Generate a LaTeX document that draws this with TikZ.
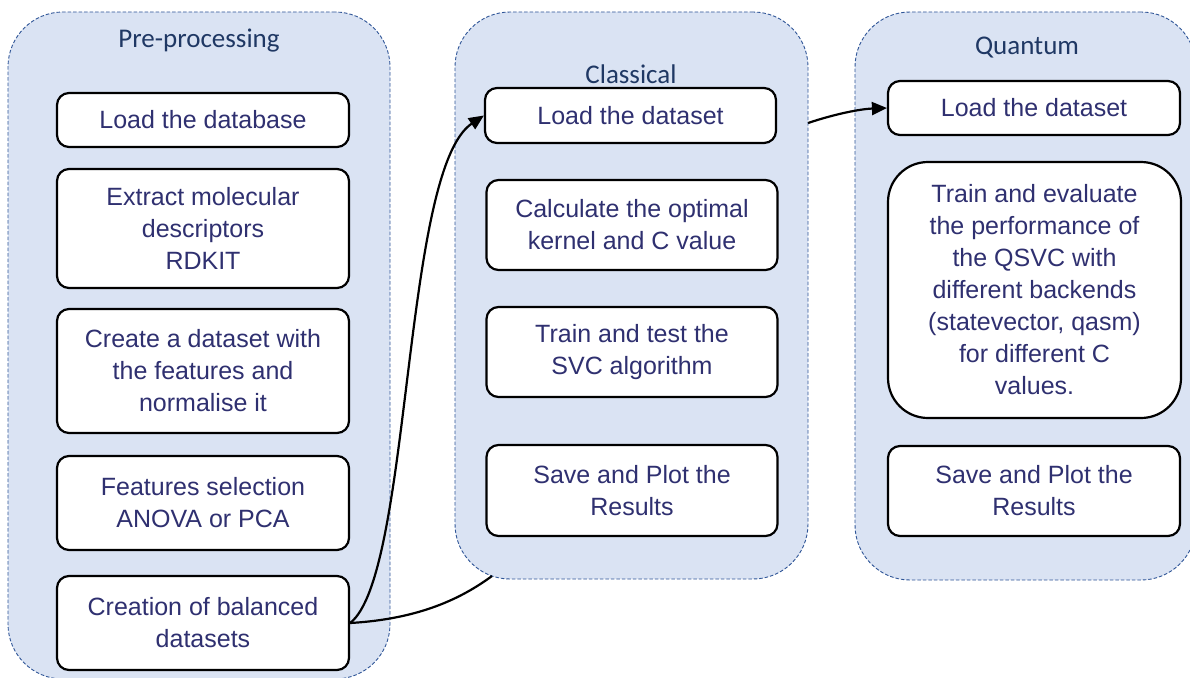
\documentclass[tikz,border=0pt]{standalone}
\usepackage{fontspec}
\setmainfont{Liberation Sans}
\newfontfamily\titlefont{Carlito}
\usetikzlibrary{arrows.meta}
\definecolor{panelfill}{HTML}{DAE3F3}
\definecolor{paneldraw}{HTML}{2F5597}
\definecolor{titlecol}{HTML}{1F3864}
\definecolor{boxtext}{HTML}{2F3070}
\tikzset{
  panel/.style={draw=paneldraw, fill=panelfill, line width=0.9pt, dash pattern=on 3.5pt off 2pt, rounded corners=55pt},
  ptitle/.style={font=\titlefont\fontsize{27}{30}\selectfont, text=titlecol, anchor=base},
  box/.style={draw=black, fill=white, line width=2.2pt, rounded corners=12pt, align=center,
    text=boxtext, font=\fontsize{25}{32}\selectfont, inner sep=0pt},
  conn/.style={draw=black, line width=2.2pt},
  tip/.style={-{Triangle[length=15pt,width=13pt]}}
}
\begin{document}
\begin{tikzpicture}[x=1pt,y=-1pt]
\clip (0,0) rectangle (1190,677);
\fill[white] (0,0) rectangle (1190,677);
% panels
\node[panel, minimum width=382pt, minimum height=667pt] (pre) at (199,345.5) {};
\node[panel, minimum width=353pt, minimum height=567pt] (cla) at (631.5,295.5) {};
\node[panel, minimum width=341pt, minimum height=568pt] (qua) at (1025.5,296) {};
% titles
\node[ptitle] (tpre) at (199,48) {Pre-processing};
\node[ptitle] (tcla) at (631,83) {Classical};
\node[ptitle] (tqua) at (1027,55) {Quantum};
% pre-processing boxes
\node[box, minimum width=292pt, minimum height=54pt] (b1) at (203,120) {Load the database};
\node[box, minimum width=292pt, minimum height=119pt] (b2) at (203,228.5) {Extract molecular\\descriptors\\RDKIT};
\node[box, minimum width=292pt, minimum height=124pt] (b3) at (203,371) {Create a dataset with\\the features and\\normalise it};
\node[box, minimum width=292pt, minimum height=94pt] (b4) at (203,503) {Features selection\\ANOVA or PCA};
\node[box, minimum width=292pt, minimum height=94pt] (b5) at (203,623) {Creation of balanced\\datasets};
% classical boxes
\node[box, minimum width=291pt, minimum height=55pt] (c1) at (630.5,115.5) {Load the dataset};
\node[box, minimum width=291pt, minimum height=90pt] (c2) at (632,225) {Calculate the optimal\\kernel and C value};
\node[box, minimum width=291pt, minimum height=90pt] (c3) at (632,352) {Train and test the\\SVC algorithm};
\node[box, minimum width=291pt, minimum height=91pt] (c4) at (632,490.5) {Save and Plot the\\Results};
% quantum boxes
\node[box, minimum width=292pt, minimum height=54pt] (q1) at (1034,108) {Load the dataset};
\node[box, rounded corners=40pt, minimum width=293pt, minimum height=256pt] (q2) at (1034.5,290) {Train and evaluate\\the performance of\\the QSVC with\\different backends\\(statevector, qasm)\\for different C\\values.};
\node[box, minimum width=292pt, minimum height=90pt] (q3) at (1034,491) {Save and Plot the\\Results};
% connectors
\coordinate (cEnd) at (492,576);
\coordinate (cOut) at (808,123);
\draw[conn, tip] (b5.east) .. controls (412,575) and (402,170) .. (c1.west);
\draw[conn] (b5.east) .. controls (420,619) and (462,598) .. (cEnd);
\draw[conn, tip] (cOut) .. controls (835,114) and (860,109) .. (q1.west);
\end{tikzpicture}
\end{document}
